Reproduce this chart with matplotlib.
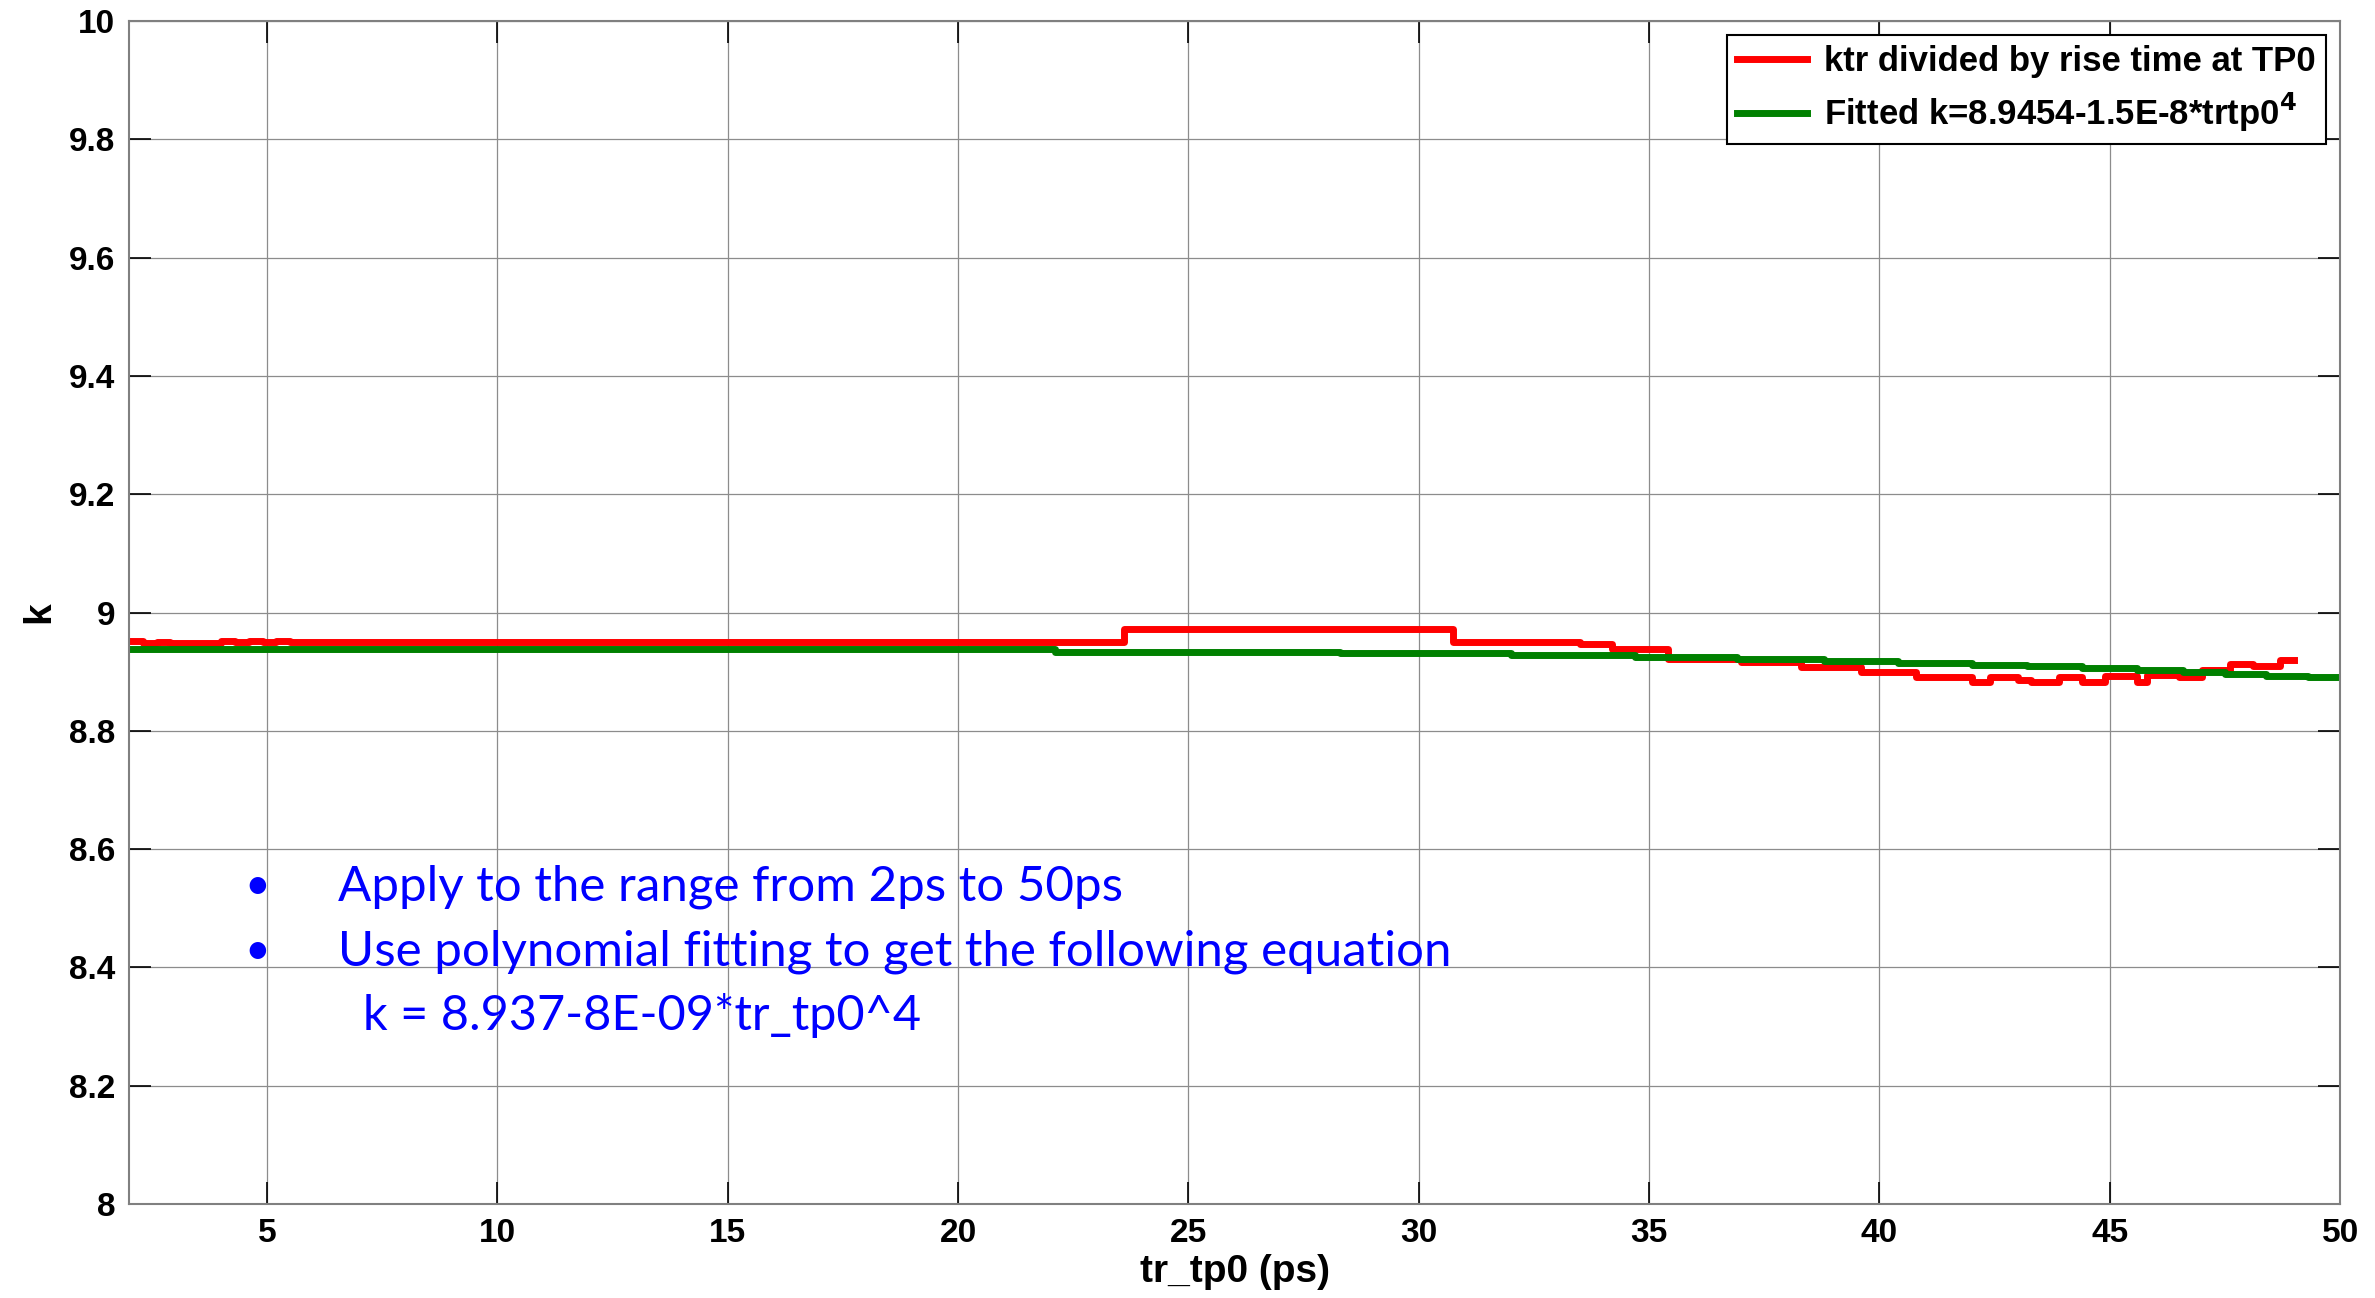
import numpy as np
import matplotlib.pyplot as plt

# step levels: x where a level starts, and the level
red_x = [2.0, 2.3, 2.6, 2.9, 4.0, 4.3, 4.6, 4.9, 5.2, 5.5, 23.6, 30.75, 33.5,
         34.2, 35.4, 37.0, 38.3, 39.6, 40.8, 42.0, 42.4, 43.0, 43.3, 43.9,
         44.4, 44.9, 45.6, 45.8, 46.5, 47.0, 47.6, 48.1, 48.7, 49.0]
red_k = [8.952, 8.948, 8.951, 8.949, 8.952, 8.950, 8.952, 8.950, 8.952, 8.951,
         8.972, 8.951, 8.946, 8.938, 8.922, 8.917, 8.908, 8.899, 8.891, 8.882,
         8.891, 8.886, 8.882, 8.891, 8.882, 8.892, 8.882, 8.894, 8.891, 8.903,
         8.913, 8.910, 8.920, 8.920]

fit_x = [2.0, 22.1, 28.3, 32.0, 34.7, 36.9, 38.8, 40.4, 42.0, 43.2, 44.4,
         45.6, 46.6, 47.5, 48.4, 49.3, 50.0]
fit_k = [8.938, 8.934, 8.931, 8.928, 8.924, 8.921, 8.918, 8.915, 8.911, 8.909,
         8.906, 8.902, 8.899, 8.896, 8.893, 8.891, 8.891]

xticks = [5, 10, 15, 20, 25, 30, 35, 40, 45, 50]
yticks = [8, 8.2, 8.4, 8.6, 8.8, 9, 9.2, 9.4, 9.6, 9.8, 10]
ytick_labels = ['8', '8.2', '8.4', '8.6', '8.8', '9', '9.2', '9.4', '9.6', '9.8', '10']

plt.rcParams['font.family'] = ['Liberation Sans', 'DejaVu Sans']

fig = plt.figure(figsize=(23.75, 12.98), dpi=100)
ax = fig.add_axes([0.0543, 0.0724, 0.931, 0.9114])

ax.plot(red_x, red_k, color='red', lw=5, drawstyle='steps-post',
        label='ktr divided by rise time at TP0')
ax.plot(fit_x, fit_k, color='green', lw=5, drawstyle='steps-post',
        label='Fitted k=8.9454-1.5E-8*trtp0$^{\\mathbf{4}}$')

ax.set_xlim(2, 50)
ax.set_ylim(8, 10)
ax.set_xticks(xticks)
ax.set_yticks(yticks)
ax.set_yticklabels(ytick_labels)
ax.grid(True, color='#8c8c8c', lw=0.9)
ax.tick_params(direction='in', length=16, width=1.2, labelsize=24,
               top=True, right=True, pad=10)
for lab in ax.get_xticklabels() + ax.get_yticklabels():
    lab.set_fontweight('bold')
for s in ax.spines.values():
    s.set_color('#808080')
    s.set_linewidth(1.5)

ax.set_xlabel('tr_tp0 (ps)', fontsize=28, fontweight='bold', labelpad=4)
ax.set_ylabel('k', fontsize=28, fontweight='bold', labelpad=8)

leg = ax.legend(loc='upper right', prop={'weight': 'bold', 'size': 25},
                handlelength=2.0, handletextpad=0.5, labelspacing=0.35,
                borderpad=0.3, borderaxespad=0.4, fancybox=False,
                edgecolor='black', framealpha=1)
leg.get_frame().set_linewidth(1.5)

blue = '#0000ff'
fig.text(0.103, 0.317, '\u2022', color=blue, fontsize=32, family='Lato', va='center')
fig.text(0.1425, 0.317, 'Apply to the range from 2ps to 50ps', color=blue,
         fontsize=35.5, family='Lato', va='center')
fig.text(0.103, 0.267, '\u2022', color=blue, fontsize=32, family='Lato', va='center')
fig.text(0.1425, 0.267, 'Use polynomial fitting to get the following equation',
         color=blue, fontsize=35.5, family='Lato', va='center')
fig.text(0.153, 0.218, 'k = 8.937-8E-09*tr_tp0^4', color=blue, fontsize=35,
         family='Lato', va='center')

fig.savefig('out.png', dpi=100)
